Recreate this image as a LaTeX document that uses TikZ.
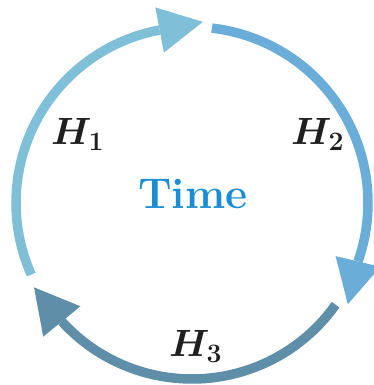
\RequirePackage{fix-cm}
\documentclass[tikz,border=0pt]{standalone}
\usetikzlibrary{calc}
\definecolor{hone}{HTML}{7FBFD7}
\definecolor{htwo}{HTML}{6AADD9}
\definecolor{hthree}{HTML}{5E8EA8}
\definecolor{timec}{HTML}{1A8ED3}
\begin{document}
\begin{tikzpicture}[x=1pt,y=1pt,
  ring/.style={line width=9.5pt},
  lab/.style={inner sep=0pt, anchor=base west, font=\fontsize{38}{46}\selectfont\boldmath, text=black!88}]
\useasboundingbox (0,0) rectangle (374,385);
\coordinate (C) at (192,182);
% H1 arc and head
\coordinate (s1) at ($(C)+(204:176)$);
\coordinate (b1) at ($(C)+(100.6:176)$);
\draw[ring, hone] (s1) arc[start angle=204, end angle=100.6, radius=176];
\fill[hone] ($(b1)+(100.7:23)$) -- ($(b1)+(10.7:44)$) -- ($(b1)+(-79.3:23)$) -- cycle;
% H2 arc and head
\coordinate (s2) at ($(C)+(83.5:176)$);
\coordinate (b2) at ($(C)+(-19.4:176)$);
\draw[ring, htwo] (s2) arc[start angle=83.5, end angle=-19.4, radius=176];
\fill[htwo] ($(b2)+(-13.4:23)$) -- ($(b2)+(-103.4:44)$) -- ($(b2)+(166.6:23)$) -- cycle;
% H3 arc and head
\coordinate (s3) at ($(C)+(-35.3:176)$);
\coordinate (b3) at ($(C)+(-137.7:176)$);
\draw[ring, hthree] (s3) arc[start angle=-35.3, end angle=-137.7, radius=176];
\fill[hthree] ($(b3)+(219.2:24)$) -- ($(b3)+(129.2:44)$) -- ($(b3)+(39.2:24)$) -- cycle;
% labels
\node[lab] (h1) at (51,240) {$H_1$};
\node[lab] (h2) at (291,240) {$H_2$};
\node[lab] (h3) at (169,28) {$H_3$};
\node[inner sep=0pt, anchor=base, font=\fontsize{43}{50}\selectfont\bfseries, text=timec] (t) at (193,176) {Time};
\end{tikzpicture}
\end{document}
